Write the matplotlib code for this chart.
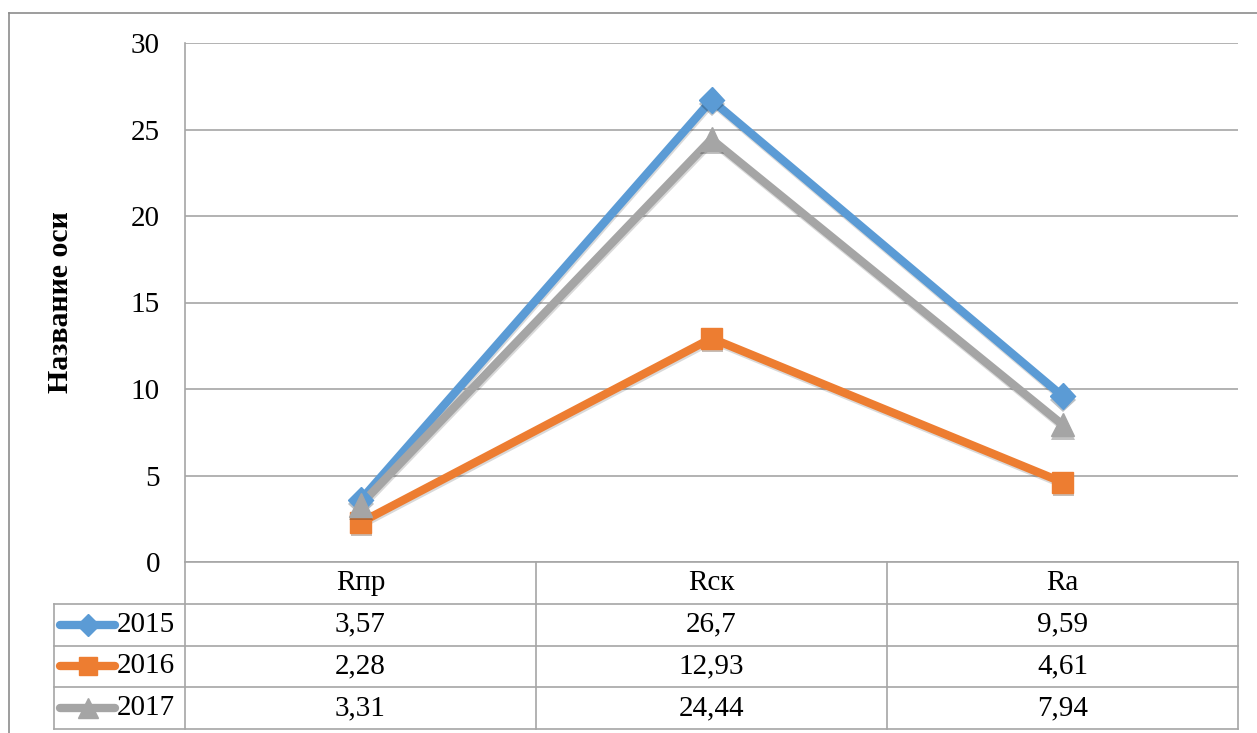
import matplotlib
matplotlib.use("Agg")
import matplotlib.pyplot as plt
import matplotlib.patheffects as pe
from matplotlib.lines import Line2D

plt.rcParams["font.family"] = "serif"
plt.rcParams["font.serif"] = ["Liberation Serif", "DejaVu Serif"]

# Chart data
categories = ["Rпр", "Rск", "Ra"]
years = ["2015", "2016", "2017"]
values_2015 = [3.57, 26.7, 9.59]
values_2016 = [2.28, 12.93, 4.61]
values_2017 = [3.31, 24.44, 7.94]
y_ticks = [0, 5, 10, 15, 20, 25, 30]

series = [values_2015, values_2016, values_2017]
colors = ["#5B9BD5", "#ED7D31", "#A5A5A5"]
markers = ["D", "s", "^"]
marker_sizes = [13, 15, 17]
grid_color = "#A6A6A6"

W, H = 1257, 733
fig = plt.figure(figsize=(W / 100, H / 100), dpi=100)


def fx(px):
    return px / W


def fy(py):
    return 1 - py / H


# Plot area
left, right, top, bottom = 185, 1238, 43, 562
ax = fig.add_axes([fx(left), fy(bottom), fx(right - left), fy(top) - fy(bottom)])
ax.set_xlim(-0.5, len(categories) - 0.5)
ax.set_ylim(0, 30)
ax.set_yticks(y_ticks)
ax.set_yticklabels([str(t) for t in y_ticks], fontsize=21)
ax.tick_params(axis="y", length=0, pad=18)
ax.set_xticks([])
ax.grid(axis="y", color=grid_color, linewidth=1.2)
ax.set_axisbelow(True)
for side in ["top", "right", "bottom"]:
    ax.spines[side].set_visible(False)
ax.spines["left"].set_color(grid_color)
ax.spines["left"].set_linewidth(1.2)
ax.set_ylabel("Название оси", fontsize=21.5, fontweight="bold", labelpad=41)

line_shadow = [pe.SimpleLineShadow(offset=(0.5, -1.5), alpha=0.15), pe.Normal()]
marker_shadow = [pe.SimplePatchShadow(offset=(0.5, -2.5), alpha=0.3), pe.Normal()]
x = list(range(len(categories)))
for vals, c, m, ms in zip(series, colors, markers, marker_sizes):
    ax.plot(x, vals, color=c, linewidth=6, solid_capstyle="round",
            solid_joinstyle="miter", path_effects=line_shadow, zorder=3)
    ax.plot(x, vals, color=c, linestyle="none", marker=m, markersize=ms,
            path_effects=marker_shadow, zorder=4)

# Data table below the plot area
tab_bottom = 729
tab = fig.add_axes([fx(left), fy(tab_bottom), fx(right - left), fy(bottom) - fy(tab_bottom)])
tab.set_xlim(-0.5, len(categories) - 0.5)
n_rows = len(years) + 1
tab.set_ylim(n_rows, 0)
tab.axis("off")

col_px = (right - left) / len(categories)
key_left = -0.5 - (left - 54) / col_px
lkw = dict(color=grid_color, linewidth=1.2, clip_on=False)
# horizontal rules
tab.plot([-0.5, len(categories) - 0.5], [0, 0], **lkw)
for r in range(1, n_rows + 1):
    tab.plot([key_left, len(categories) - 0.5], [r, r], **lkw)
# vertical rules
for k in range(len(categories) + 1):
    tab.plot([k - 0.5, k - 0.5], [0, n_rows], **lkw)
tab.plot([key_left, key_left], [1, n_rows], **lkw)

for i, cat in enumerate(categories):
    tab.text(i, 0.5, cat, ha="center", va="center", fontsize=21)

kx0 = key_left + 6 / col_px
kx1 = key_left + 61 / col_px
for r, (yr, vals, c, m, ms) in enumerate(zip(years, series, colors, markers, marker_sizes), start=1):
    tab.add_line(Line2D([kx0, kx1], [r + 0.5, r + 0.5], color=c, linewidth=6,
                        solid_capstyle="round", clip_on=False))
    tab.add_line(Line2D([(kx0 + kx1) / 2], [r + 0.5], color=c, marker=m,
                        markersize=ms * 0.85, linestyle="none", clip_on=False))
    tab.text(kx1 + 2 / col_px, r + 0.5, yr, ha="left", va="center", fontsize=21)
    for i, v in enumerate(vals):
        tab.text(i, r + 0.5, f"{v:g}".replace(".", ","), ha="center", va="center", fontsize=21)

# Chart frame (cropped on the right and bottom)
fig.add_artist(Line2D([fx(9), fx(9)], [fy(13), 0], color="#8C8C8C", linewidth=1.2))
fig.add_artist(Line2D([fx(9), 1], [fy(13), fy(13)], color="#8C8C8C", linewidth=1.2))

fig.savefig("out.png", dpi=100)
